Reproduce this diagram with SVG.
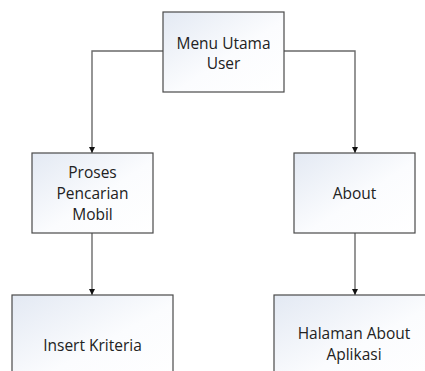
<svg xmlns="http://www.w3.org/2000/svg" width="425" height="371" viewBox="0 0 425 371">
  <defs>
    <linearGradient id="boxFill" x1="0" y1="0" x2="1" y2="1">
      <stop offset="0" stop-color="#e3e9f3"/>
      <stop offset="0.55" stop-color="#fbfcfe"/>
      <stop offset="1" stop-color="#ffffff"/>
    </linearGradient>
    <marker id="arrow" viewBox="0 0 10 10" refX="10" refY="5" markerWidth="6" markerHeight="6" markerUnits="userSpaceOnUse" orient="auto">
      <path d="M0,0 L10,5 L0,10 Z" fill="#111"/>
    </marker>
    <style>
      .box { fill: url(#boxFill); stroke: #4a4a4a; stroke-width: 1.2; }
      .label { font-family: "Open Sans", "Noto Sans", sans-serif; font-size: 15.5px; fill: #222; text-anchor: middle; dominant-baseline: central; }
      .link { fill: none; stroke: #6a6a6a; stroke-width: 1.4; marker-end: url(#arrow); }
    </style>
  </defs>

  <g id="connectors">
    <path class="link" d="M163,51 H92 V153"/>
    <path class="link" d="M284,51 H355 V153"/>
    <path class="link" d="M92,233 V295"/>
    <path class="link" d="M355,233 V295"/>
  </g>

  <g id="menu-utama">
    <rect class="box" x="163" y="12" width="121" height="80"/>
    <text class="label" x="223.5" y="43">Menu Utama</text>
    <text class="label" x="223.5" y="63">User</text>
  </g>

  <g id="proses-pencarian">
    <rect class="box" x="32" y="153" width="121" height="80"/>
    <text class="label" x="92.5" y="172">Proses</text>
    <text class="label" x="92.5" y="193">Pencarian</text>
    <text class="label" x="92.5" y="214">Mobil</text>
  </g>

  <g id="about">
    <rect class="box" x="294" y="153" width="121" height="80"/>
    <text class="label" x="354.5" y="193">About</text>
  </g>

  <g id="insert-kriteria">
    <rect class="box" x="12" y="295" width="161" height="90"/>
    <text class="label" x="92.5" y="345">Insert Kriteria</text>
  </g>

  <g id="halaman-about">
    <rect class="box" x="274" y="295" width="161" height="90"/>
    <text class="label" x="354" y="333">Halaman About</text>
    <text class="label" x="354" y="354">Aplikasi</text>
  </g>
</svg>
